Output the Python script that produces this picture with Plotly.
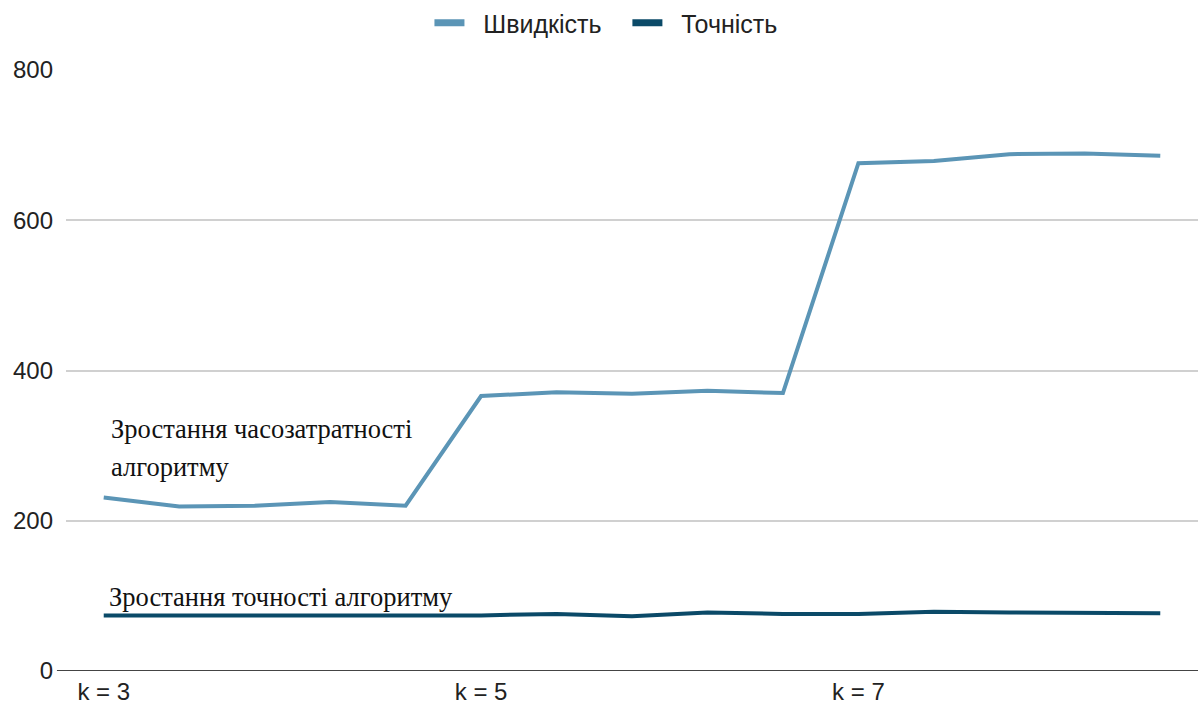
import plotly.graph_objects as go

# Run index (5 runs for each k), tick positions and labels
runs = [0, 1, 2, 3, 4, 5, 6, 7, 8, 9, 10, 11, 12, 13, 14]
tick_positions = [0, 5, 10]
tick_labels = ["k = 3", "k = 5", "k = 7"]

# Series values
speed = [231, 219, 220, 225, 220, 366, 371, 369, 373, 370, 676, 679, 688, 689, 686]
accuracy = [74, 74, 74, 74, 74, 74, 76, 73, 78, 76, 76, 79, 78, 77, 77]

series_names = ["Швидкість", "Точність"]
speed_color = "#5b95b6"
accuracy_color = "#0b4a68"

fig = go.Figure()
fig.add_trace(go.Scatter(
    x=runs, y=speed, mode="lines", name=series_names[0], showlegend=False,
    line=dict(color=speed_color, width=4),
))
fig.add_trace(go.Scatter(
    x=runs, y=accuracy, mode="lines", name=series_names[1], showlegend=False,
    line=dict(color=accuracy_color, width=4),
))

# Legend entries drawn as short thick bars
for name, color in zip(series_names, [speed_color, accuracy_color]):
    fig.add_trace(go.Scatter(
        x=[None], y=[None], mode="lines", name="  " + name + "   ",
        line=dict(color=color, width=7), showlegend=True,
    ))

# Baseline at zero, slightly extended to the left of the plot area
fig.add_shape(type="line", xref="paper", yref="y", x0=-0.008, x1=1, y0=0, y1=0,
              line=dict(color="#444444", width=2), layer="below")

serif = dict(family="Liberation Serif, Times New Roman, serif", size=26.5, color="#111111")
fig.add_annotation(text="Зростання часозатратності", xref="paper", yref="y",
                   x=0.038, y=322, xanchor="left", yanchor="middle",
                   showarrow=False, font=serif)
fig.add_annotation(text="алгоритму", xref="paper", yref="y",
                   x=0.038, y=272, xanchor="left", yanchor="middle",
                   showarrow=False, font=serif)
fig.add_annotation(text="Зростання точності алгоритму", xref="paper", yref="y",
                   x=0.036, y=98, xanchor="left", yanchor="middle",
                   showarrow=False, font=serif)

fig.update_layout(
    width=1204, height=711,
    margin=dict(l=66, r=6, t=70, b=38),
    paper_bgcolor="white", plot_bgcolor="white",
    font=dict(family="Liberation Sans, Arial, sans-serif", size=24, color="#222222"),
    showlegend=True,
    legend=dict(orientation="h", x=0.512, xanchor="center", xref="container",
                y=1.0, yanchor="top", yref="container",
                font=dict(size=25, color="#222222"),
                itemwidth=30, tracegroupgap=0, valign="middle"),
    xaxis=dict(
        range=[-0.5, 14.5],
        tickmode="array", tickvals=tick_positions, ticktext=tick_labels,
        showgrid=False, zeroline=False, showline=False, ticks="",
        ticklabelstandoff=4,
    ),
    yaxis=dict(
        range=[0, 800], tickvals=[0, 200, 400, 600, 800],
        showgrid=True, gridcolor="#d0d0d0", gridwidth=1.5,
        zeroline=False, showline=False, ticks="", ticklabelstandoff=12,
    ),
)

fig.write_html("out.html")
